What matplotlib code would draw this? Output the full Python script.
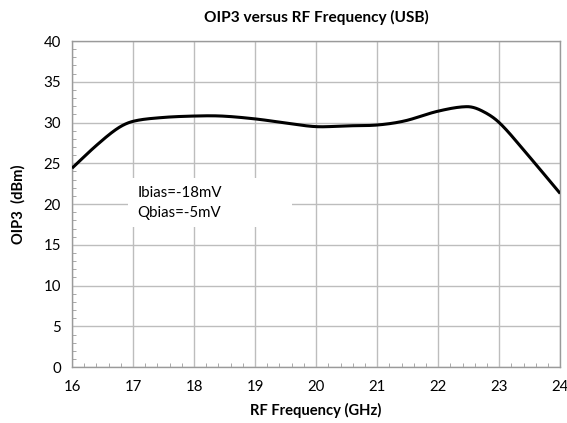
import numpy as np
import matplotlib
matplotlib.use("Agg")
import matplotlib.pyplot as plt
from matplotlib.patches import Rectangle
from matplotlib.ticker import MultipleLocator

plt.rcParams['font.family'] = ['Lato', 'DejaVu Sans']

freq_ghz = [16.0, 16.4, 16.75, 17.0, 17.45, 18.0, 18.45, 19.0, 19.5,
            20.0, 20.5, 21.0, 21.45, 22.0, 22.47, 22.7, 23.0, 23.45, 24.0]
oip3_dbm = [24.4, 27.2, 29.3, 30.15, 30.6, 30.8, 30.8, 30.45, 29.95,
            29.5, 29.6, 29.7, 30.2, 31.4, 31.95, 31.5, 30.0, 26.2, 21.3]

title = "OIP3 versus RF Frequency (USB)"
xlabel = "RF Frequency (GHz)"
ylabel = "OIP3  (dBm)"
note_lines = ["Ibias=-18mV", "Qbias=-5mV"]


def smooth_curve(x, y, n=40):
    """Cubic Hermite through the points, slopes from neighbouring points."""
    x = np.asarray(x, float)
    y = np.asarray(y, float)
    m = np.empty_like(y)
    m[1:-1] = (y[2:] - y[:-2]) / (x[2:] - x[:-2])
    m[0] = (y[1] - y[0]) / (x[1] - x[0])
    m[-1] = (y[-1] - y[-2]) / (x[-1] - x[-2])
    ox, oy = [], []
    t = np.linspace(0, 1, n, endpoint=False)
    for i in range(len(x) - 1):
        h = x[i + 1] - x[i]
        h00 = 2 * t ** 3 - 3 * t ** 2 + 1
        h10 = t ** 3 - 2 * t ** 2 + t
        h01 = -2 * t ** 3 + 3 * t ** 2
        h11 = t ** 3 - t ** 2
        ox.extend(x[i] + h * t)
        oy.extend(h00 * y[i] + h10 * h * m[i] + h01 * y[i + 1] + h11 * h * m[i + 1])
    ox.append(x[-1])
    oy.append(y[-1])
    return np.array(ox), np.array(oy)


fig = plt.figure(figsize=(5.67, 4.23), dpi=100)
ax = fig.add_axes([0.127, 0.132, 0.861, 0.771])

sx, sy = smooth_curve(freq_ghz, oip3_dbm)
ax.plot(sx, sy, color='black', lw=2.2, zorder=4, solid_capstyle='butt')

ax.set_xlim(16, 24)
ax.set_ylim(0, 40)
ax.xaxis.set_major_locator(MultipleLocator(1))
ax.xaxis.set_minor_locator(MultipleLocator(0.2))
ax.yaxis.set_major_locator(MultipleLocator(5))
ax.yaxis.set_minor_locator(MultipleLocator(1))
ax.grid(True, which='major', color='#bdbdbd', lw=1.0, zorder=1)
ax.tick_params(which='major', length=0, labelsize=10.8, pad=8, colors='black')
ax.tick_params(which='minor', direction='in', length=3, color='#9a9a9a')
ax.tick_params(axis='x', which='major', pad=9)
for s in ax.spines.values():
    s.set_color('#9a9a9a')
    s.set_linewidth(1.0)

# white note box (covers gridlines)
ax.add_patch(Rectangle((0.115, 0.43), 0.335, 0.15, transform=ax.transAxes,
                       facecolor='white', edgecolor='none', zorder=2))
ax.text(0.134, 0.535, note_lines[0], transform=ax.transAxes, fontsize=10.8,
        va='center', ha='left', zorder=3)
ax.text(0.134, 0.473, note_lines[1], transform=ax.transAxes, fontsize=10.8,
        va='center', ha='left', zorder=3)

ax.set_title(title, fontsize=11.1, fontweight='bold', pad=14)
ax.set_xlabel(xlabel, fontsize=10.6, fontweight='bold', labelpad=7)
ax.set_ylabel(ylabel, fontsize=10.6, fontweight='bold', labelpad=13)

fig.savefig('out.png', dpi=100)
